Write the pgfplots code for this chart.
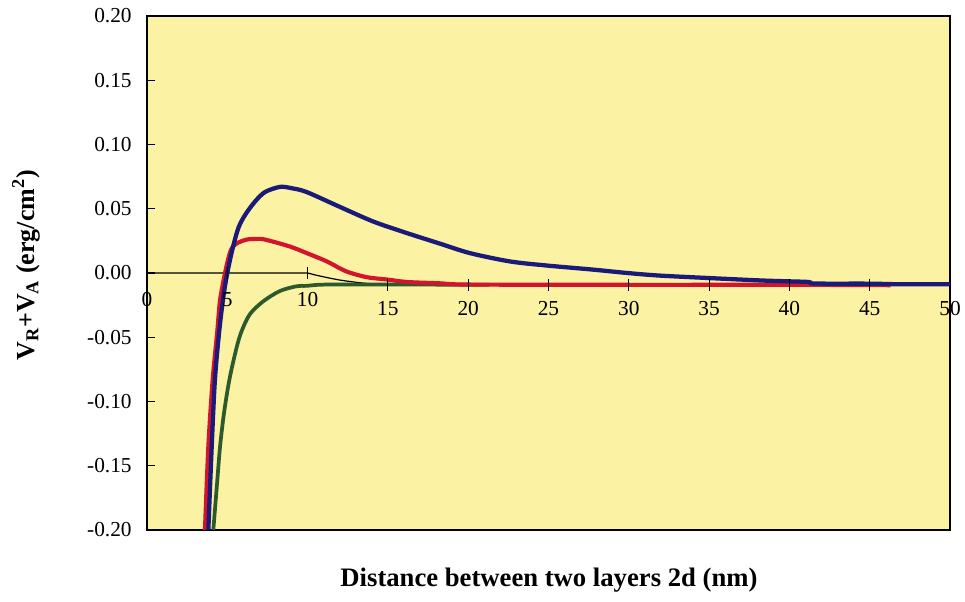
\documentclass[border=0pt]{standalone}
\usepackage{pgfplots}
\pgfplotsset{compat=1.18}
\usepackage{fontspec}
\setmainfont{Liberation Serif}
\definecolor{bgyellow}{HTML}{FBF2A4}
\definecolor{cblue}{HTML}{1A1A78}
\definecolor{cred}{HTML}{D2142D}
\definecolor{cgreen}{HTML}{2D5A2D}
\begin{document}
\begin{tikzpicture}
\begin{axis}[
  scale only axis,
  width=602.25pt, height=385.5pt,
  xmin=0, xmax=50, ymin=-0.2, ymax=0.2,
  axis background/.style={fill=bgyellow},
  axis line style={line width=1.2pt},
  xtick=\empty,
  ytick={-0.2,-0.15,...,0.21},
  ytick pos=left,
  tick align=inside,
  major tick length=6pt,
  tick style={line width=0.9pt, black},
  yticklabel style={font=\fontsize{16}{18}\selectfont, xshift=-8pt},
  /pgf/number format/.cd, fixed, fixed zerofill, precision=2, assume math mode=true,
  /pgfplots/.cd,
  ylabel={\textbf{V\textsubscript{R}+V\textsubscript{A} (erg/cm\textsuperscript{2})}},
  ylabel style={font=\fontsize{19.5}{22}\selectfont, at={(axis description cs:-0.1507,0.515)}, anchor=center},
  xlabel={\textbf{Distance between two layers 2d (nm)}},
  xlabel style={font=\fontsize{20}{23}\selectfont, at={(axis description cs:0.5006,-0.097)}, anchor=center},
]
\coordinate (ll) at (rel axis cs:0,0);
\coordinate (ur) at (rel axis cs:1,1);
% x axis line
\addplot[black, line width=0.9pt] coordinates {(0,0) (10,0) (10.5,-0.0016) (11,-0.003) (11.5,-0.0043) (12,-0.0055) (12.5,-0.0064) (13,-0.0072) (13.5,-0.0079) (14,-0.0085) (14.5,-0.0088) (15,-0.009) (50,-0.009)};
\addplot[black, only marks, mark=|, mark size=4.5pt, mark options={line width=0.9pt}] coordinates {(5,0) (10,0) (15,-0.009) (20,-0.009) (25,-0.009) (30,-0.009) (35,-0.009) (40,-0.009) (45,-0.009)};
\addplot[draw=none, mark=none, nodes near coords, point meta=explicit symbolic,
  nodes near coords align={anchor=center},
  every node near coord/.append style={font=\fontsize{16}{18}\selectfont, inner sep=0pt}]
  coordinates {(0,-0.0209)[0] (5,-0.0209)[5] (10,-0.0209)[10] (15,-0.028)[15] (20,-0.028)[20] (25,-0.028)[25] (30,-0.028)[30] (35,-0.028)[35] (40,-0.028)[40] (45,-0.028)[45] (50,-0.028)[50]};
% green
\addplot[cgreen, line width=2.8pt, smooth] coordinates {(4.13,-0.2) (4.38,-0.161) (4.55,-0.135) (4.79,-0.1095) (5.13,-0.083) (5.58,-0.058) (5.9,-0.045) (6.41,-0.032) (7.24,-0.022) (8.28,-0.014) (9.32,-0.0103) (9.94,-0.0100) (11.2,-0.009) (16.2,-0.009) (21.3,-0.0092)};
% red
\addplot[cred, line width=3.1pt, smooth] coordinates {(3.61,-0.2) (3.82,-0.135) (4.09,-0.083) (4.38,-0.045) (4.55,-0.021) (4.86,0) (5.07,0.0116) (5.27,0.019) (5.58,0.023) (6.2,0.026) (6.8,0.0265) (7.35,0.026) (8.9,0.0206) (9.94,0.0155) (11.2,0.009) (12.4,0.0013) (13.7,-0.0033) (14.9,-0.005) (16.2,-0.007) (18.2,-0.008) (20.1,-0.009) (30,-0.0092) (40,-0.0092) (46.3,-0.0095)};
% blue
\addplot[cblue, line width=3.2pt, smooth] coordinates {(3.82,-0.2) (4.03,-0.135) (4.23,-0.083) (4.5,-0.045) (4.75,-0.019) (5.0,0) (5.33,0.019) (5.69,0.035) (6.1,0.045) (6.72,0.0555) (7.35,0.063) (8.28,0.067) (9.0,0.066) (9.94,0.063) (12.0,0.0515) (14.1,0.040) (16.2,0.031) (18.2,0.023) (20.1,0.0155) (22.6,0.009) (24.9,0.0058) (27.8,0.0026) (29.9,0.0) (31.9,-0.002) (35.1,-0.004) (38.2,-0.0058) (40.0,-0.0065) (41.2,-0.007) (41.6,-0.0082) (45,-0.0083) (47,-0.0088) (50,-0.0088)};
\end{axis}
\pgfresetboundingbox
\useasboundingbox ([xshift=-110.25pt, yshift=-54pt]ll) rectangle ([xshift=11.25pt, yshift=12pt]ur);
\end{tikzpicture}
\end{document}
